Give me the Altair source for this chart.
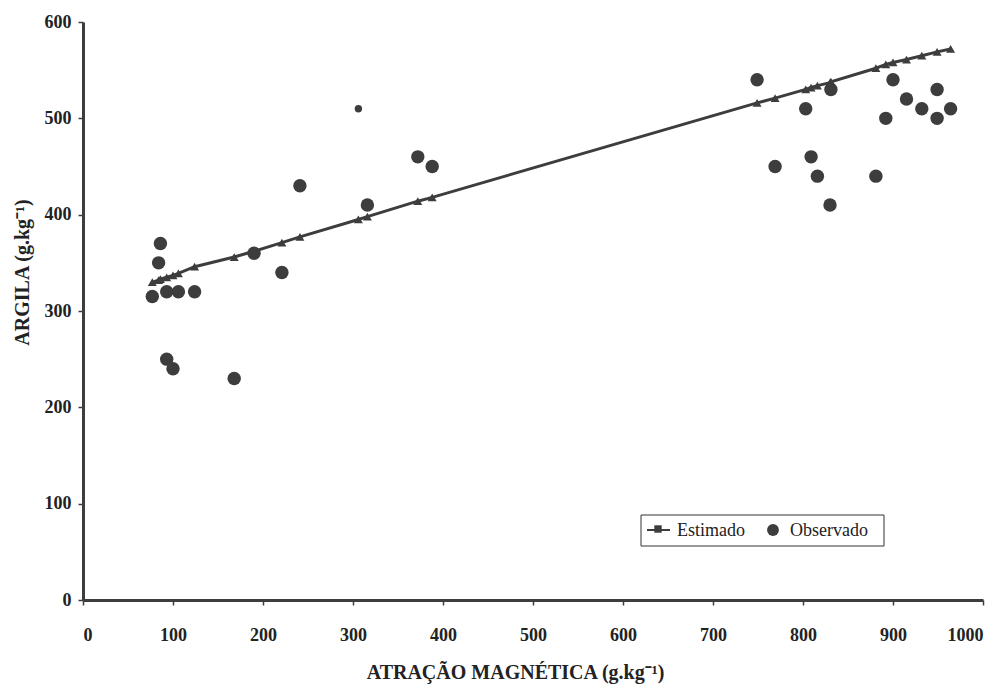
import altair as alt
import pandas as pd

# Observed (Observado)
obs_x = [77, 84, 86, 93, 106, 124, 93, 100, 168, 190, 221, 241, 316, 372, 388,
         749, 769, 803, 809, 816, 830, 831, 881, 892, 900, 915, 932, 949, 949, 964]
obs_y = [315, 350, 370, 320, 320, 320, 250, 240, 230, 360, 340, 430, 410, 460, 450,
         540, 450, 510, 460, 440, 410, 530, 440, 500, 540, 520, 510, 530, 500, 510]
# one smaller observed dot
obs_small_x = [306]
obs_small_y = [510]

# Estimated (Estimado)
est_x = [77, 84, 86, 93, 100, 106, 124, 168, 190, 221, 241, 306, 316, 372, 388,
         749, 769, 803, 809, 816, 830, 831, 881, 892, 900, 915, 932, 949, 964]
est_y = [330, 332, 333, 335, 337, 339, 346, 356, 362, 371, 377, 395, 398, 414, 418,
         516, 521, 530, 532, 534, 537, 538, 552, 556, 558, 561, 565, 569, 572]

x_ticks = [0, 100, 200, 300, 400, 500, 600, 700, 800, 900, 1000]
y_ticks = [0, 100, 200, 300, 400, 500, 600]

obs = pd.DataFrame({"x": obs_x, "y": obs_y})
obs_s = pd.DataFrame({"x": obs_small_x, "y": obs_small_y})
est = pd.DataFrame({"x": est_x, "y": est_y})

DARK = "#3d3d3d"
FONT = "Liberation Serif"

xs = alt.Scale(domain=[0, 1000], nice=False, zero=False)
ys = alt.Scale(domain=[0, 600], nice=False)

xax = alt.Axis(values=x_ticks, format="d", title="ATRAÇÃO  MAGNÉTICA (g.kg⁻¹)", grid=False,
               domainColor=DARK, domainWidth=3, tickColor=DARK, tickSize=5, tickWidth=1.5,
               labelFont=FONT, labelFontWeight="bold", labelFontSize=18, labelColor="#222",
               labelPadding=21, titleFont=FONT, titleFontWeight="bold", titleFontSize=20,
               titleColor="#222", titleX=432, titleY=72, titleBaseline="middle")
yax = alt.Axis(values=y_ticks, format="d", title="ARGILA (g.kg⁻¹)", grid=False,
               domainColor=DARK, domainWidth=3, tickColor=DARK, tickSize=5, tickWidth=1.5,
               labelFont=FONT, labelFontWeight="bold", labelFontSize=18, labelColor="#222",
               labelPadding=7, titleFont=FONT, titleFontWeight="bold", titleFontSize=20,
               titleColor="#222", titleX=-61, titleY=250, titleBaseline="middle")

pts = alt.Chart(obs).mark_circle(size=180, color=DARK, opacity=1).encode(
    x=alt.X("x:Q", scale=xs, axis=xax),
    y=alt.Y("y:Q", scale=ys, axis=yax),
)
pts_s = alt.Chart(obs_s).mark_circle(size=55, color=DARK, opacity=1).encode(
    x=alt.X("x:Q", scale=xs),
    y=alt.Y("y:Q", scale=ys),
)
line = alt.Chart(est).mark_line(color=DARK, strokeWidth=3).encode(
    x=alt.X("x:Q", scale=xs),
    y=alt.Y("y:Q", scale=ys),
)
marks = alt.Chart(est).mark_point(shape="triangle-up", filled=True, size=80, color=DARK, opacity=1).encode(
    x=alt.X("x:Q", scale=xs),
    y=alt.Y("y:Q", scale=ys),
)

# Legend (drawn manually)
leg_box = alt.Chart(pd.DataFrame({"a": [0]})).mark_rect(
    fill="white", stroke="#333", strokeWidth=1).encode(
    x=alt.value(558), x2=alt.value(801), y=alt.value(493), y2=alt.value(524))
leg_line = alt.Chart(pd.DataFrame({"a": [0]})).mark_rule(color=DARK, strokeWidth=2).encode(
    x=alt.value(564), x2=alt.value(587), y=alt.value(508))
leg_sq = alt.Chart(pd.DataFrame({"a": [0]})).mark_point(
    shape="square", filled=True, size=55, color=DARK, opacity=1).encode(
    x=alt.value(575), y=alt.value(507))
leg_t1 = alt.Chart(pd.DataFrame({"t": ["Estimado"]})).mark_text(
    font=FONT, fontSize=18, align="left", baseline="middle", color="#222").encode(
    x=alt.value(594), y=alt.value(509), text="t:N")
leg_c = alt.Chart(pd.DataFrame({"a": [0]})).mark_circle(size=140, color=DARK, opacity=1).encode(
    x=alt.value(690), y=alt.value(508))
leg_t2 = alt.Chart(pd.DataFrame({"t": ["Observado"]})).mark_text(
    font=FONT, fontSize=18, align="left", baseline="middle", color="#222").encode(
    x=alt.value(707), y=alt.value(509), text="t:N")

chart = alt.layer(line, marks, pts, pts_s, leg_box, leg_line, leg_sq, leg_t1, leg_c, leg_t2).properties(
    width=900, height=578,
    autosize=alt.AutoSizeParams(type="none"),
    padding={"left": 83, "top": 22, "right": 22, "bottom": 86},
    background="white",
).configure_view(stroke=None)

chart.save("out.html", embed_options={"renderer": "svg", "actions": False})
